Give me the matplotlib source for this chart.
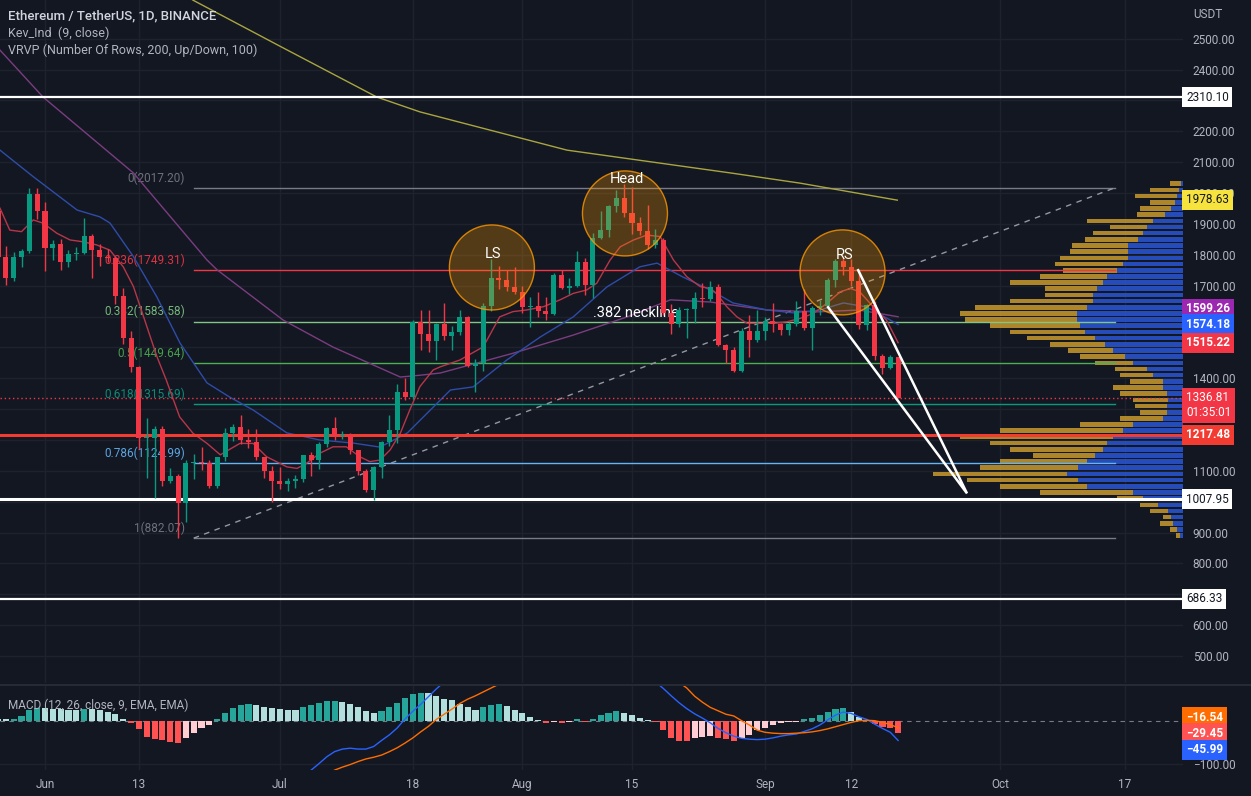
import numpy as np
import pandas as pd
import matplotlib
matplotlib.use('Agg')
import matplotlib.pyplot as plt
import matplotlib.transforms as mtransforms
from matplotlib.patches import Ellipse
from matplotlib.lines import Line2D

plt.rcParams['font.family'] = ['Roboto', 'DejaVu Sans']

BG = '#131722'
GRID = '#1e222d'
TXT = '#b2b5be'
UP = '#089981'
DN = '#f23645'

# ---- daily candles ETH/USDT (26 May .. 18 Sep 2022) ----
dates = pd.date_range('2022-05-26', '2022-09-18', freq='D')
opens = [1943, 1794, 1724, 1793, 1812, 1997,
         1942, 1823, 1834, 1776, 1804, 1806, 1860, 1814, 1792, 1789, 1665, 1530, 1437, 1207, 1208,
         1236, 1067, 1085, 995, 1127, 1128, 1125, 1051, 1144, 1224, 1243, 1199, 1193, 1144, 1099,
         1067, 1059, 1067, 1074, 1150, 1134, 1186, 1238, 1212, 1217, 1168, 1098, 1039, 1113, 1192,
         1233, 1354, 1339, 1582, 1542, 1520, 1576, 1536, 1551, 1599, 1439, 1450, 1635, 1724, 1717, 1696,
         1678, 1631, 1634, 1618, 1608, 1735, 1694, 1700, 1776, 1701, 1853, 1880, 1958, 1983, 1935,
         1902, 1876, 1833, 1847, 1610, 1577, 1620, 1623, 1661, 1657, 1695, 1508, 1490, 1424, 1553, 1523,
         1553, 1586, 1577, 1556, 1577, 1618, 1562, 1629, 1635, 1718, 1780, 1762, 1715, 1573, 1636, 1471,
         1432, 1470]
highs = [1957, 1830, 1810, 1820, 2016, 2017,
         1971, 1848, 1850, 1814, 1824, 1918, 1868, 1836, 1818, 1797, 1692, 1554, 1439, 1270, 1245,
         1245, 1110, 1091, 1136, 1155, 1176, 1136, 1146, 1238, 1253, 1280, 1236, 1236, 1146, 1116,
         1113, 1078, 1086, 1152, 1162, 1194, 1242, 1276, 1228, 1222, 1168, 1106, 1116, 1198, 1280,
         1380, 1400, 1590, 1620, 1620, 1580, 1645, 1570, 1620, 1602, 1464, 1645, 1785, 1765, 1750, 1760,
         1698, 1663, 1681, 1664, 1740, 1750, 1725, 1812, 1791, 1870, 1942, 1960, 2011, 2030, 2020,
         1923, 1960, 1885, 1853, 1640, 1630, 1628, 1680, 1710, 1715, 1705, 1510, 1500, 1563, 1606, 1620,
         1597, 1645, 1580, 1581, 1649, 1689, 1635, 1655, 1725, 1785, 1790, 1787, 1750, 1640, 1650, 1480,
         1475, 1470]
lows = [1763, 1702, 1715, 1762, 1806, 1917,
        1748, 1783, 1752, 1760, 1782, 1801, 1724, 1765, 1776, 1642, 1512, 1420, 1170, 1076, 1012,
        1050, 1061, 882, 935, 1075, 1103, 1043, 1045, 1133, 1197, 1188, 1174, 1136, 1078, 998,
        1040, 1034, 1045, 1063, 1082, 1105, 1177, 1200, 1203, 1156, 1087, 1032, 1006, 1078, 1180,
        1190, 1331, 1333, 1493, 1484, 1460, 1525, 1492, 1539, 1438, 1356, 1424, 1617, 1690, 1682, 1673,
        1610, 1566, 1600, 1590, 1606, 1688, 1672, 1695, 1670, 1661, 1850, 1857, 1938, 1922, 1868,
        1863, 1820, 1823, 1605, 1542, 1565, 1530, 1580, 1630, 1650, 1503, 1450, 1420, 1420, 1470, 1518,
        1525, 1550, 1540, 1540, 1570, 1555, 1490, 1605, 1632, 1697, 1734, 1698, 1560, 1555, 1460, 1414,
        1430, 1335]
closes = [1794, 1724, 1793, 1812, 1997, 1942,
          1823, 1834, 1776, 1804, 1806, 1860, 1814, 1792, 1789, 1665, 1530, 1437, 1207, 1208, 1236,
          1067, 1085, 995, 1127, 1128, 1125, 1051, 1144, 1224, 1243, 1199, 1193, 1144, 1099, 1067,
          1059, 1067, 1074, 1150, 1134, 1186, 1238, 1212, 1217, 1168, 1098, 1039, 1113, 1192, 1233,
          1354, 1339, 1582, 1542, 1520, 1576, 1536, 1551, 1599, 1439, 1450, 1635, 1724, 1717, 1696, 1678,
          1631, 1634, 1618, 1608, 1735, 1694, 1700, 1776, 1701, 1853, 1880, 1958, 1983, 1935, 1902,
          1876, 1833, 1847, 1610, 1577, 1620, 1623, 1661, 1657, 1695, 1508, 1490, 1424, 1553, 1523, 1553,
          1586, 1577, 1556, 1577, 1618, 1562, 1629, 1635, 1718, 1780, 1762, 1715, 1573, 1636, 1471, 1432,
          1470, 1336.81]

# ---- moving averages (day from 1 Jun, price) ----
ma9 = [(-5.75, 1951), (-4.5, 1880), (-3, 1875), (-1.5, 1913), (-0.2, 1902), (1.5, 1870), (3.2, 1848),
       (4.9, 1842), (6.6, 1832), (8.3, 1815), (10, 1761), (11.3, 1697), (12.6, 1599), (14.3, 1470),
       (15.5, 1394), (17.2, 1275), (18.9, 1222), (20.7, 1189), (22.4, 1152), (24.9, 1189), (26.6, 1189),
       (28.3, 1146), (30.9, 1113), (32.2, 1108), (33.4, 1124), (35.1, 1157), (36.8, 1178), (38.5, 1178),
       (40.2, 1146), (41.5, 1130), (42.8, 1135), (44.1, 1168), (45.4, 1222), (46.6, 1297), (47.9, 1373),
       (49.6, 1427), (50.5, 1437), (53, 1459), (56, 1502), (58.1, 1599), (59.8, 1616), (61.5, 1621),
       (63.7, 1632), (65.8, 1654), (67.5, 1675), (69.2, 1686), (70.5, 1708), (72.2, 1783), (73.5, 1826),
       (75.2, 1848), (76.9, 1864), (78.6, 1859), (80.3, 1783), (82, 1729), (83.7, 1697), (85, 1691),
       (85.8, 1675), (87.1, 1632), (88.4, 1599), (89.7, 1578), (91.4, 1578), (93.1, 1578), (94.8, 1583),
       (96.5, 1594), (98.2, 1610), (99.9, 1643), (101.6, 1680), (102.9, 1691), (104.1, 1680),
       (105.8, 1632), (107.5, 1589), (109, 1515.22)]
ma_blue = [(-5.75, 2139), (-1.5, 2053), (4.1, 1945), (7, 1923), (8.3, 1903), (11.3, 1794), (14.3, 1663),
           (17.25, 1514), (20.7, 1385), (23.6, 1339), (26.6, 1297), (30.9, 1223), (35.1, 1200),
           (39.4, 1190), (42.8, 1177), (46.3, 1223), (51.8, 1362), (54.7, 1372), (59, 1459), (63.3, 1534),
           (67.5, 1599), (71.8, 1696), (76, 1761), (78.2, 1773), (81.5, 1728), (85, 1686), (87.9, 1644),
           (92.3, 1621), (95.6, 1612), (99, 1621), (102, 1644), (105, 1631), (109, 1574.18)]
ma_purple = [(-5.75, 2463), (-0.25, 2311), (11.3, 2065), (20.7, 1783), (22, 1751), (30.4, 1589),
             (36.8, 1501), (45.4, 1404), (48, 1410), (50.5, 1417), (59.8, 1481), (67.5, 1540),
             (74.4, 1599), (79.9, 1654), (85, 1647), (92.3, 1621), (98.6, 1615), (104, 1621), (109, 1599.26)]
ma_yellow = [(15, 2700), (18.9, 2625), (30, 2476), (42.4, 2311), (47.9, 2263), (66.7, 2139),
             (87.9, 2064), (96.5, 2032), (108.9, 1977)]

# ---- MACD (12, 26, 9) ----
hist = [3, 3, 4, 11, 25, 29, 29, 27, 27, 26, 26, 27, 27, 25, 21, 15, 3, -6, -20, -37, -43, -44,
        -49, -51, -41, -29, -18, -10, 3, 17, 29, 36, 39, 36, 33, 30, 27, 25, 24, 33, 36, 42, 45, 46,
        43, 39, 33, 23, 19, 23, 31, 40, 52, 62, 65, 64, 57, 50, 47, 39, 31, 26, 33, 36, 38, 34, 26,
        17, 9, 2, -6, -3, -5, -2, 3, -3, 5, 13, 19, 22, 19, 13, 7, 2, -3, -22, -40, -47, -48, -41,
        -37, -36, -41, -43, -47, -41, -33, -22, -16, -10, -6, -4, -2, 3, 7, 13, 21, 27, 29, 21, 9,
        2, -8, -14, -18, -29.45]
macd_days1 = [33, 34, 35, 36, 37, 38, 39, 40, 41, 42, 43, 44, 45, 46, 47, 48, 49, 50, 51, 52]
macd_vals1 = [-130, -115, -100, -84, -72, -66, -64, -66, -66, -60, -46, -33, -17, 4, 22, 38, 56, 74, 90, 100]
macd_days2 = list(range(78, 110))
macd_vals2 = [90, 75, 58, 42, 28, 16, 6, -5, -18, -28, -36, -41, -43, -44, -43, -40, -36, -33, -31,
              -25, -19, -10, 2, 13, 20, 17, 9, 3, -8, -18, -27, -45.99]
sig_days1 = list(range(36, 60))
sig_vals1 = [-125, -115, -108, -102, -95, -89, -85, -80, -72, -63, -52, -40, -26, -13, 3, 15, 27,
             40, 50, 58, 67, 76, 85, 92]
sig_days2 = list(range(80, 110))
sig_vals2 = [98, 89, 76, 57, 43, 31, 23, 15, 11, 0, -10, -22, -27, -29, -30, -30, -29, -28, -26,
             -23, -19, -14, -9, -4, 0, 1, 0, -4, -9, -16.54]

# ---- visible range volume profile (row price, total, up) ----
vp_price = np.arange(890, 2031, 20)
vp_total = [7, 13, 23, 20, 33, 43, 66, 143, 183, 216, 250, 203, 183, 150, 173, 193, 223, 183, 103,
            63, 43, 48, 50, 63, 70, 53, 63, 68, 88, 103, 115, 133, 156, 173, 193, 218, 223, 208,
            173, 138, 138, 173, 143, 120, 128, 123, 113, 111, 98, 90, 73, 96, 46, 43, 33, 48, 33, 13]
vp_up = [3, 6, 10, 12, 15, 25, 40, 50, 96, 105, 116, 105, 96, 88, 80, 76, 70, 60, 50, 20, 16, 16,
         15, 16, 20, 20, 30, 36, 50, 58, 70, 78, 88, 98, 103, 106, 106, 96, 90, 90, 86, 80, 76, 66,
         60, 55, 55, 55, 45, 40, 36, 30, 18, 12, 8, 6, 4, 2]

# fib retracement
fib_lvls = ['0', '0.236', '0.382', '0.5', '0.618', '0.786', '1']
fib_vals = [2017.20, 1749.31, 1583.58, 1449.64, 1315.69, 1124.99, 882.07]
fib_cols = ['#787b86', '#f23645', '#81c784', '#4caf50', '#089981', '#64b5f6', '#787b86']

tick_days = [0, 12, 30, 47, 61, 75, 92, 103, 122, 138]
tick_names = ['Jun', '13', 'Jul', '18', 'Aug', '15', 'Sep', '12', 'Oct', '17']

# ---------------------------------------------------------------
W, H = 1251, 796
fig = plt.figure(figsize=(W / 100, H / 100), dpi=100, facecolor=BG)
ax = fig.add_axes([0, 113 / H, 1183 / W, 683 / H], facecolor=BG)
mx = fig.add_axes([0, 26 / H, 1183 / W, 84 / H], facecolor=BG)

x = np.array((dates - pd.Timestamp('2022-06-01')).days, dtype=float)
X0, X1 = -5.75, 145.4
ax.set_xlim(X0, X1)
ax.set_ylim(412.8, 2625.4)
mx.set_xlim(X0, X1)
mx.set_ylim(-114.7, 80.7)

for a in (ax, mx):
    for s in a.spines.values():
        s.set_visible(False)
    a.set_xticks(tick_days)
    a.grid(True, color=GRID, lw=1, zorder=0)
    a.set_axisbelow(True)

ax.tick_params(axis='x', length=0, labelbottom=False)
mx.set_xticklabels(tick_names)
mx.tick_params(axis='x', length=0, pad=6, labelcolor=TXT, labelsize=8.5)

yt = list(range(500, 2600, 100))
hidden = {700, 1000, 1200, 1300, 1500, 1600, 2300}
ax.yaxis.tick_right()
ax.set_yticks(yt)
ax.set_yticklabels(['' if v in hidden else f'{v:.2f}' for v in yt])
ax.tick_params(axis='y', length=0, pad=7, labelcolor=TXT, labelsize=8.5)
mx.yaxis.tick_right()
mx.set_yticks([-100])
mx.set_yticklabels(['\u2212100.00'])
mx.tick_params(axis='y', length=0, pad=7, labelcolor=TXT, labelsize=8.5)

# volume profile
o = np.array(opens, float); c = np.array(closes, float)
px_day = 7.826
tot = np.array(vp_total) / px_day
upv = np.array(vp_up) / px_day
ax.barh(vp_price, upv, left=X1 - upv, height=15, color='#2a56d6', alpha=0.85, lw=0, zorder=1.5)
ax.barh(vp_price, tot - upv, left=X1 - tot, height=15, color='#c99a2e', alpha=0.85, lw=0, zorder=1.5)

# fib retracement
for lv, v, col in zip(fib_lvls, fib_vals, fib_cols):
    ax.plot([19.0, 136.7], [v, v], color=col, lw=1, zorder=2)
    ax.text(17.9, v + 32, f'{lv}({v:.2f})', color=col, fontsize=8.5, ha='right', va='center',
            zorder=2, alpha=0.9)
ax.plot([19.0, 136.7], [882.07, 2017.2], color='#9598a1', lw=1, ls=(0, (4, 4)), zorder=2)

# key horizontal levels
ax.axhline(2310.10, color='white', lw=1.6, zorder=3)
ax.axhline(1007.95, color='white', lw=2.2, zorder=3)
ax.axhline(686.33, color='white', lw=1.6, zorder=3)
ax.axhline(1217.48, color='#f23c31', lw=2.2, zorder=3)
ax.axhline(1336.81, color=DN, lw=1, ls=(0, (1, 2)), zorder=3)

# moving averages
for pts, col, lw in [(ma_yellow, '#a9a640', 1.0), (ma_purple, '#7a3d80', 1.0),
                     (ma_blue, '#2e4ca8', 1.0), (ma9, '#b8364a', 1.0)]:
    p = np.array(pts)
    ax.plot(p[:, 0], p[:, 1], color=col, lw=lw, zorder=2.5)

ax.text(75.5, 1611, '.382 neckline', color='white', fontsize=10.5, ha='center', va='center',
        zorder=2.6)

# candles
cols = np.where(c >= o, UP, DN)
ax.vlines(x, lows, highs, colors=cols, lw=1, zorder=4)
body = np.maximum(np.abs(c - o), 3)
ax.bar(x, body, bottom=np.minimum(o, c), width=0.64, color=cols, lw=0, zorder=4.1)

# head & shoulders circles
rx = 2 * 42.5 / px_day
ry = 2 * 42.5 / 0.3087
for cx, cy, lab, ly in [(57.1, 1759, 'LS', 1802), (74.1, 1934, 'Head', 2045),
                        (101.9, 1743, 'RS', 1798)]:
    ax.add_patch(Ellipse((cx, cy), rx, ry, fc=(1.0, 0.6, 0.0, 0.28), ec=(1.0, 0.6, 0.0, 0.8),
                         lw=1, zorder=5))
    ax.text(cx + 0.2, ly, lab, color='white', fontsize=10.5, ha='center', va='center', zorder=6)

# projection triangle
ax.plot([100.05, 117.8, 103.9], [1630, 1027, 1750], color='white', lw=1.8, zorder=6,
        solid_joinstyle='miter')

# MACD panel
hv = np.array(hist, float)
prev = np.concatenate([[hv[0] + 1], hv[:-1]])
hcol = np.where(hv >= 0, np.where(hv > prev, '#26a69a', '#b2dfdb'),
                np.where(hv < prev, '#ff5252', '#ffcdd2'))
mx.bar(x, hv, width=0.78, color=hcol, lw=0, zorder=2)
mx.axhline(0, color='#787b86', lw=0.8, ls=(0, (4, 4)), zorder=1)
mx.plot(macd_days1, macd_vals1, color='#2962ff', lw=1, zorder=3)
mx.plot(macd_days2, macd_vals2, color='#2962ff', lw=1, zorder=3)
mx.plot(sig_days1, sig_vals1, color='#ff6d00', lw=1, zorder=3)
mx.plot(sig_days2, sig_vals2, color='#ff6d00', lw=1, zorder=3)

# panel separator
fig.add_artist(Line2D([0, 1], [1 - 685 / H] * 2, color='#2a2e39', lw=1.2))

# legends
fig.text(8 / W, 1 - 16 / H, 'Ethereum / TetherUS, 1D, BINANCE', color='#d1d4dc', fontsize=9.5,
         fontweight='medium', va='center')
fig.text(8 / W, 1 - 33 / H, 'Kev_Ind  (9, close)', color=TXT, fontsize=9, va='center')
fig.text(8 / W, 1 - 50 / H, 'VRVP (Number Of Rows, 200, Up/Down, 100)', color=TXT, fontsize=9,
         va='center')
fig.text(8 / W, 1 - 705 / H, 'MACD (12, 26, close, 9, EMA, EMA)', color=TXT, fontsize=8.5,
         va='center')
fig.text(1193 / W, 1 - 14 / H, 'USDT', color=TXT, fontsize=8.5, va='center')

# price scale labels
tr = mtransforms.blended_transform_factory(fig.transFigure, ax.transData)
trm = mtransforms.blended_transform_factory(fig.transFigure, mx.transData)


def tag(trans, y, s, fc, tc, bold=False, a=ax):
    a.text(1186 / W, y, s, transform=trans, color=tc, fontsize=8.5, ha='left', va='center',
           fontweight='bold' if bold else 'normal', clip_on=False, zorder=10,
           bbox=dict(boxstyle='square,pad=0.3', fc=fc, ec='none'))


tag(tr, 2310.10, '2310.10', 'white', '#131722')
tag(tr, 1978.63, '1978.63', '#f7e33d', '#131722')
tag(tr, 1625, '1599.26', '#9c27b0', 'white', True)
tag(tr, 1574.18, '1574.18', '#2962ff', 'white', True)
tag(tr, 1515.22, '1515.22', '#f23645', 'white', True)
tag(tr, 1313, '1336.81\n01:35:01', '#f23645', 'white')
tag(tr, 1217.48, '1217.48', '#f23c31', 'white', True)
tag(tr, 1007.95, '1007.95', 'white', '#131722')
tag(tr, 686.33, '686.33', 'white', '#131722')
tag(trm, 8, '\u221216.54', '#ff6d00', 'white', True, mx)
tag(trm, -29.45, '\u221229.45', '#ff5252', 'white', True, mx)
tag(trm, -68, '\u221245.99', '#2962ff', 'white', True, mx)

fig.savefig('out.png', dpi=100, facecolor=BG)
